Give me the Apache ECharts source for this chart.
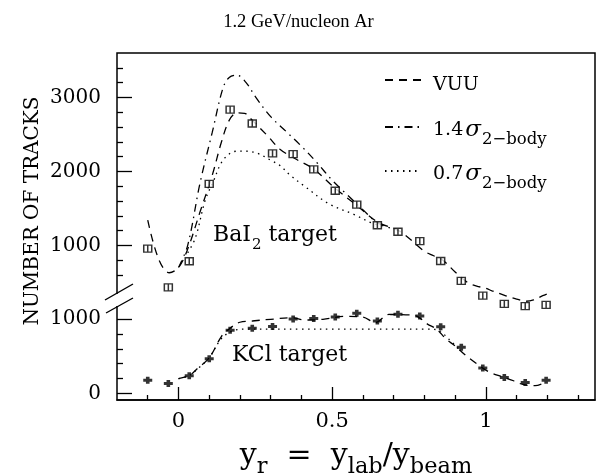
<!DOCTYPE html>
<html><head><meta charset="utf-8">
<script src="https://cdn.jsdelivr.net/npm/echarts@6/dist/echarts.min.js"></script>
<style>html,body{margin:0;padding:0;background:#fff}#c{width:597px;height:475px}</style>
</head><body><div id="c"></div>
<script>
// ---- measured data (rapidity y_r, number of tracks) ----
const dataX = [-0.1, -0.033, 0.035, 0.1, 0.168, 0.24, 0.306, 0.373, 0.44, 0.51, 0.58, 0.647, 0.714, 0.785, 0.853, 0.92, 0.99, 1.06, 1.128, 1.196];
const baI2Counts = [956, 432, 785, 1832, 2835, 2647, 2244, 2232, 2027, 1738, 1550, 1272, 1184, 1058, 789, 520, 320, 208, 178, 195];
const kclCounts = [178, 133, 236, 467, 853, 880, 903, 1005, 1009, 1031, 1080, 978, 1067, 1044, 898, 622, 342, 213, 147, 178];

// ---- model curves, BaI2 target ----
const vuuBaX = [-0.1, -0.065, -0.03, 0.0, 0.03, 0.07, 0.11, 0.14, 0.165, 0.19, 0.215, 0.24, 0.29, 0.33, 0.38, 0.44, 0.51, 0.58, 0.65, 0.72, 0.8, 0.83, 0.86, 0.9, 0.94, 0.97, 1.0, 1.02, 1.05, 1.08, 1.1, 1.13, 1.155, 1.185, 1.2];
const vuuBaY = [1340, 820, 630, 700, 950, 1450, 1950, 2400, 2690, 2790, 2785, 2690, 2480, 2300, 2170, 2030, 1770, 1540, 1310, 1190, 920, 860, 800, 640, 500, 450, 420, 385, 340, 298, 275, 245, 262, 320, 345];
const s14BaX = [0.0, 0.03, 0.07, 0.11, 0.145, 0.165, 0.19, 0.22, 0.25, 0.3, 0.35, 0.4, 0.45, 0.5, 0.55, 0.6, 0.65, 0.7];
const s14BaY = [700, 1000, 1840, 2530, 3130, 3270, 3300, 3200, 3010, 2740, 2540, 2340, 2120, 1880, 1680, 1480, 1300, 1220];
const s07BaX = [0.03, 0.055, 0.087, 0.115, 0.14, 0.17, 0.2, 0.23, 0.26, 0.3, 0.33, 0.36, 0.41, 0.49, 0.57, 0.63, 0.67];
const s07BaY = [900, 1100, 1610, 1880, 2120, 2250, 2275, 2270, 2240, 2150, 2080, 1960, 1800, 1560, 1420, 1300, 1260];

// ---- model curves, KCl target ----
const vuuKX = [0.0, 0.035, 0.06, 0.1, 0.14, 0.165, 0.2, 0.24, 0.3, 0.37, 0.41, 0.47, 0.54, 0.6, 0.64, 0.685, 0.74, 0.77, 0.81, 0.84, 0.87, 0.9, 0.935, 0.97, 1.01, 1.054, 1.09, 1.12, 1.16, 1.196];
const vuuKY = [200, 240, 330, 480, 770, 870, 960, 977, 1000, 1020, 990, 1000, 1040, 1030, 956, 1065, 1060, 1050, 935, 867, 735, 640, 511, 400, 289, 222, 170, 120, 103, 156];
const s07KX = [0.0, 0.035, 0.07, 0.1, 0.14, 0.18, 0.22, 0.3, 0.4, 0.5, 0.6, 0.7, 0.8, 0.84, 0.88, 0.92];
const s07KY = [200, 240, 360, 480, 740, 850, 867, 868, 868, 868, 868, 868, 868, 860, 730, 560];

// ---- axis tick values ----
const xMajorTicks = [0, 0.5, 1];
const xMinorTicks = [-0.1, 0.1, 0.2, 0.3, 0.4, 0.6, 0.7, 0.8, 0.9, 1.1, 1.2, 1.3];
const lowMajorTicks = [0, 1000];
const lowMinorTicks = [200, 400, 600, 800];
const upMajorTicks = [1000, 2000, 3000];
const upMinorTicks = [600, 800, 1200, 1400, 1600, 1800, 2200, 2400, 2600, 2800, 3200, 3400];

// ---- legend entries ----
const legendNames = ['VUU', '1.4σ', '0.7σ'];

const zip = (xs, ys) => xs.map((x, i) => [x, ys[i]]);
const FONT = 'DejaVu Serif';
const lw = 1.3;

const chart = echarts.init(document.getElementById('c'), null, {renderer: 'canvas'});

const yBase = (min, max) => ({
  type: 'value', min: min, max: max, position: 'left', offset: 0,
  axisLine: {show: false, onZero: false}, splitLine: {show: false}
});
const lowRange = [-90, 4596];
const upRange = [-1090, 3600];
const plain = v => String(v);

const legendRich = {
  m: {fontFamily: FONT, fontSize: 19, color: '#000', verticalAlign: 'top', padding: [7, 0, 7, 7], lineHeight: 22},
  g: {fontFamily: FONT, fontSize: 23, fontStyle: 'italic', color: '#000', verticalAlign: 'top', padding: [5, 0, 5, 2], lineHeight: 26},
  s: {fontFamily: FONT, fontSize: 16.5, color: '#000', verticalAlign: 'top', padding: [17, 0, 0, 1], lineHeight: 19}
};
const legendTops = [64, 109, 153];
const makeLegend = (name, i) => ({
  data: [name], orient: 'vertical', left: 379, top: legendTops[i],
  itemWidth: 36, itemHeight: 12, itemStyle: {opacity: 0},
  textStyle: {fontFamily: FONT, fontSize: 19, color: '#000', rich: legendRich},
  formatter: function (n) {
    if (n === 'VUU') return '{m|VUU}';
    return '{m|' + n.replace('σ', '') + '}{g|σ}{s|2−body}';
  }
});

const option = {
  animation: false,
  backgroundColor: '#fff',
  title: {
    text: '1.2 GeV/nucleon Ar', left: 'center', top: 8,
    textStyle: {fontFamily: 'Liberation Serif', fontSize: 18.5, fontWeight: 'normal', color: '#000'}
  },
  grid: {left: 117, right: 2, top: 53, bottom: 75, show: true, borderColor: '#000', borderWidth: 1.5, backgroundColor: 'transparent', containLabel: false, outerBoundsMode: 'none'},
  legend: legendNames.map(makeLegend),
  xAxis: [{
    type: 'value', min: -0.2, max: 1.355, position: 'bottom',
    axisLine: {show: true, onZero: false, lineStyle: {color: '#000', width: 1.5}},
    axisTick: {show: true, inside: true, length: 13, customValues: xMajorTicks, lineStyle: {color: '#000', width: 1.3}},
    axisLabel: {show: true, customValues: xMajorTicks, margin: 11, fontFamily: FONT, fontSize: 21, color: '#000', formatter: plain},
    splitLine: {show: false},
    name: '{y|y}{sb|r}{y|  =  y}{sb|lab}{y|/y}{sb|beam}',
    nameLocation: 'middle', nameGap: 41,
    nameTextStyle: {
      rich: {
        y: {fontFamily: FONT, fontSize: 30, color: '#000', verticalAlign: 'top', lineHeight: 32, padding: [0, 0, 7, 0]},
        sb: {fontFamily: FONT, fontSize: 22.5, color: '#000', verticalAlign: 'top', lineHeight: 24, padding: [15, 0, 0, 0]}
      }
    }
  }, {
    type: 'value', min: -0.2, max: 1.355, position: 'bottom',
    axisLine: {show: false, onZero: false},
    axisTick: {show: true, inside: true, length: 5, customValues: xMinorTicks, lineStyle: {color: '#000', width: 1.3}},
    axisLabel: {show: false}, splitLine: {show: false}
  }],
  yAxis: [
    Object.assign(yBase(lowRange[0], lowRange[1]), {
      axisTick: {show: true, inside: true, length: 15, customValues: lowMajorTicks, lineStyle: {color: '#000', width: 1.3}},
      axisLabel: {show: true, customValues: lowMajorTicks, margin: 16, fontFamily: FONT, fontSize: 20, color: '#000', formatter: plain}
    }),
    Object.assign(yBase(lowRange[0], lowRange[1]), {
      axisTick: {show: true, inside: true, length: 6, customValues: lowMinorTicks, lineStyle: {color: '#000', width: 1.3}},
      axisLabel: {show: false}
    }),
    Object.assign(yBase(upRange[0], upRange[1]), {
      axisTick: {show: true, inside: true, length: 15, customValues: upMajorTicks, lineStyle: {color: '#000', width: 1.3}},
      axisLabel: {show: true, customValues: upMajorTicks, margin: 16, fontFamily: FONT, fontSize: 20, color: '#000', formatter: plain}
    }),
    Object.assign(yBase(upRange[0], upRange[1]), {
      axisTick: {show: true, inside: true, length: 6, customValues: upMinorTicks, lineStyle: {color: '#000', width: 1.3}},
      axisLabel: {show: false}
    })
  ],
  series: [
    {name: 'VUU', type: 'line', yAxisIndex: 2, data: zip(vuuBaX, vuuBaY), smooth: 0.35, symbol: 'none',
     itemStyle: {color: '#000'}, lineStyle: {color: '#000', width: lw, type: [8, 6]}, z: 3},
    {name: '1.4σ', type: 'line', yAxisIndex: 2, data: zip(s14BaX, s14BaY), smooth: 0.35, symbol: 'none',
     itemStyle: {color: '#000'}, lineStyle: {color: '#000', width: lw, type: [8, 5, 1.5, 5]}, z: 3},
    {name: '0.7σ', type: 'line', yAxisIndex: 2, data: zip(s07BaX, s07BaY), smooth: 0.35, symbol: 'none',
     itemStyle: {color: '#000'}, lineStyle: {color: '#000', width: lw, type: [1.5, 4.5]}, z: 3},
    {name: 'VUU', type: 'line', yAxisIndex: 0, data: zip(vuuKX, vuuKY), smooth: 0.35, symbol: 'none',
     itemStyle: {color: '#000'}, lineStyle: {color: '#000', width: lw, type: [8, 6]}, z: 3},
    {name: '0.7σ', type: 'line', yAxisIndex: 0, data: zip(s07KX, s07KY), smooth: 0.35, symbol: 'none',
     itemStyle: {color: '#000'}, lineStyle: {color: '#000', width: lw, type: [1.5, 4.5]}, z: 3},
    {name: 'BaI2 data', type: 'scatter', yAxisIndex: 2, data: zip(dataX, baI2Counts),
     symbol: 'path://M0,0L8,0L8,7L0,7Z M4,0L4,7', symbolSize: [8, 7],
     itemStyle: {color: '#fff', borderColor: '#000', borderWidth: 1.4}, z: 5},
    {name: 'KCl data', type: 'scatter', yAxisIndex: 0, data: zip(dataX, kclCounts),
     symbol: 'path://M0,2L3,2L3,0L7,0L7,2L10,2L10,5L7,5L7,7L3,7L3,5L0,5Z', symbolSize: [9, 7],
     itemStyle: {color: '#000'}, z: 5}
  ],
  graphic: [
    {type: 'text', x: 33, y: 211, rotation: Math.PI / 2,
     style: {text: 'NUMBER OF TRACKS', font: '20px "DejaVu Serif"', fill: '#000', align: 'center', verticalAlign: 'middle'}},
    {type: 'text', x: 213, y: 237,
     style: {text: '{a|BaI}{b|2}{a| target}', fill: '#000', verticalAlign: 'middle',
       rich: {a: {fontFamily: FONT, fontSize: 22, fill: '#000', verticalAlign: 'top', lineHeight: 26, padding: [0, 0, 6, 0]},
              b: {fontFamily: FONT, fontSize: 15, fill: '#000', verticalAlign: 'top', lineHeight: 18, padding: [14, 0, 0, 1]}}}},
    {type: 'text', x: 232, y: 355,
     style: {text: 'KCl target', font: '22px "DejaVu Serif"', fill: '#000', verticalAlign: 'middle'}},
    {type: 'rect', shape: {x: 113, y: 294, width: 8, height: 12}, style: {fill: '#fff'}, z: 100},
    {type: 'line', shape: {x1: 105, y1: 300, x2: 133, y2: 284}, style: {stroke: '#000', lineWidth: 1.4}, z: 101},
    {type: 'line', shape: {x1: 106, y1: 313, x2: 133, y2: 298}, style: {stroke: '#000', lineWidth: 1.4}, z: 101}
  ]
};
chart.setOption(option);
</script>
</body></html>
